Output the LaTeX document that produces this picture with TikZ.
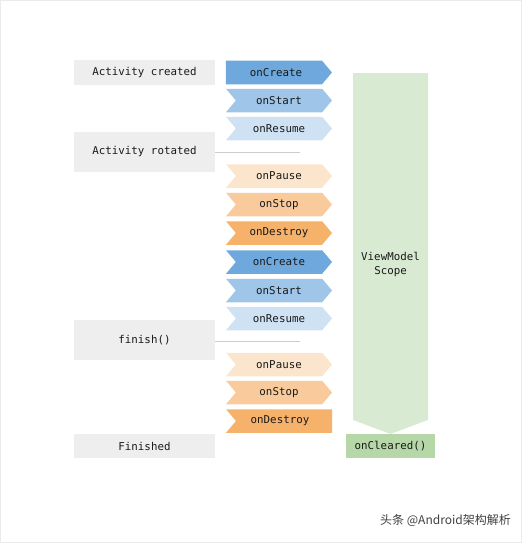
\documentclass[tikz,border=0pt]{standalone}
\usepackage{fontspec}
\setmonofont{DejaVu Sans Mono}
\newfontfamily\cjkfont{Noto Sans CJK SC}
\usetikzlibrary{shapes.symbols}
\definecolor{eventgray}{HTML}{EEEEEE}
\definecolor{createblue}{HTML}{6FA8DC}
\definecolor{startblue}{HTML}{9FC5E8}
\definecolor{resumeblue}{HTML}{CFE2F3}
\definecolor{pauseorange}{HTML}{FCE5CD}
\definecolor{stoporange}{HTML}{F9CB9C}
\definecolor{destroyorange}{HTML}{F6B26B}
\definecolor{scopegreen}{HTML}{D9EAD3}
\definecolor{clearedgreen}{HTML}{B6D7A8}
\begin{document}
\begin{tikzpicture}[x=1pt,y=-1pt,
  every node/.style={font=\ttfamily\fontsize{10.8}{14}\selectfont,text=black!90,inner sep=0pt},
  event/.style={fill=eventgray,minimum width=141pt,minimum height=24pt},
  hook/.style={signal,signal from=west,signal to=east,signal pointer angle=100,
    minimum width=106pt,minimum height=23.5pt},
  firsthook/.style={hook,signal from=nowhere,execute at end node={\kern-4pt}},
  lasthook/.style={hook,signal to=nowhere,execute at begin node={\kern-8pt}}]
\useasboundingbox (0,0) rectangle (522,543);
\draw[eventgray!70!gray!40] (0.5,0.5) rectangle (521.5,542.5);

\node[event] (created) at (144.5,72.5) {Activity created};
\node[event,minimum height=40pt] (rotated) at (144.5,152) {Activity rotated};
\node[event,minimum height=40pt] (finish) at (144.5,340) {finish()};
\node[event] (finished) at (144.5,446) {Finished};

\node[firsthook,fill=createblue] (create1) at (274,72.5) {onCreate};
\node[hook,fill=startblue] (start1) at (279,100.5) {onStart};
\node[hook,fill=resumeblue] (resume1) at (279,128.5) {onResume};
\node[hook,fill=pauseorange] (pause1) at (279,176) {onPause};
\node[hook,fill=stoporange] (stop1) at (279,204.5) {onStop};
\node[hook,fill=destroyorange] (destroy1) at (279,233) {onDestroy};
\node[hook,fill=createblue] (create2) at (279,262) {onCreate};
\node[hook,fill=startblue] (start2) at (279,290.5) {onStart};
\node[hook,fill=resumeblue] (resume2) at (279,318.5) {onResume};
\node[hook,fill=pauseorange] (pause2) at (279,364.5) {onPause};
\node[hook,fill=stoporange] (stop2) at (279,392.5) {onStop};
\node[lasthook,fill=destroyorange] (destroy2) at (284,421) {onDestroy};

\coordinate (cut1) at (300,152);
\coordinate (cut2) at (300,341);
\draw[gray!40] (rotated.east) -- (cut1);
\draw[gray!40] (finish.east |- cut2) -- (cut2);

\fill[scopegreen] (353,73) -- (428,73) -- (428,420) -- (390.5,434) -- (353,420) -- cycle;
\node[align=center] (scope) at (390.5,264) {ViewModel\\Scope};
\node[fill=clearedgreen,minimum width=89pt,minimum height=24pt] (cleared) at (390.5,446) {onCleared()};

\node[anchor=east,font=\cjkfont\fontsize{12}{14}\selectfont,text=black!75] (mark) at (511,520) {头条 @Android架构解析};
\end{tikzpicture}
\end{document}
